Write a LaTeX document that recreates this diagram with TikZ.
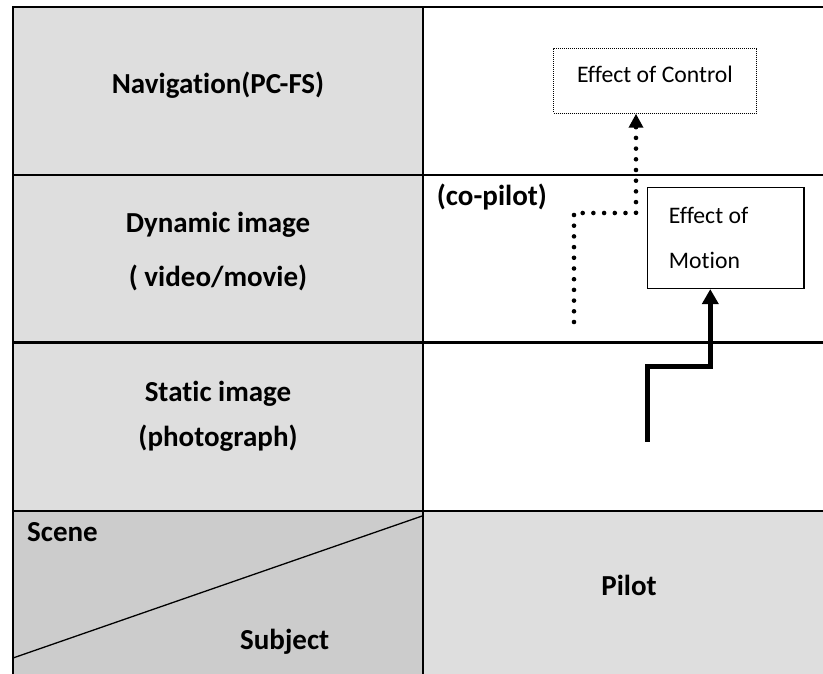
\documentclass[tikz,border=0pt]{standalone}
\usepackage{fontspec}
\setmainfont{Carlito}[Ligatures=NoCommon]
\usetikzlibrary{arrows.meta}
\definecolor{cellgray}{HTML}{DEDEDE}
\definecolor{darkcell}{HTML}{CCCCCC}
\begin{document}
\begin{tikzpicture}[x=1pt,y=-1pt,
  grid/.style={line width=2.3pt, line cap=rect},
  head/.style={font=\fontsize{29}{45}\selectfont\bfseries, inner sep=0pt, align=center},
  ctrlbox/.style={draw, dash pattern=on 1pt off 1pt, line width=0.9pt,
    minimum width=203pt, minimum height=65pt, inner sep=0pt,
    text height=16pt, text depth=12pt, font=\fontsize{23.7}{28}\selectfont},
  motionbox/.style={draw, line width=1.6pt, minimum width=156.3pt, minimum height=100.6pt,
    text width=113.7pt, align=flush left, inner xsep=21.3pt, inner ysep=0pt,
    font=\fontsize{23.7}{45.7}\selectfont},
  dotarrow/.style={line width=4.6pt, line cap=round, dash pattern=on 0pt off 10.7pt,
    -{Triangle[width=14pt,length=14pt]}},
  solidarrow/.style={line width=5pt, line join=miter,
    -{Triangle[width=16pt,length=15pt]}}]
\useasboundingbox (0,0) rectangle (823,674);
% cell fills
\fill[white] (0,0) rectangle (823,674);
\fill[cellgray] (13,7) rectangle (423,511);
\fill[darkcell] (13,511) rectangle (423,674);
\fill[cellgray] (423,511) rectangle (823,674);
% diagonal
\draw[line width=1.3pt] (13,658) -- (423,515.7);
% grid
\draw[grid] (13,7) -- (823,7);
\draw[grid] (13,175) -- (823,175);
\draw[grid] (13,342.5) -- (823,342.5);
\draw[grid] (13,511) -- (823,511);
\draw[grid] (13,7) -- (13,674);
\draw[grid] (423,7) -- (423,674);
% labels
\node[head, anchor=base] (nav) at (218,94) {Navigation(PC-FS)};
\node[head, anchor=base] (dyn) at (218,287) {Dynamic image\\[9.3pt]( video/movie)};
\node[head, anchor=base] (stat) at (218,446) {Static image\\(photograph)};
\node[head, anchor=base west] (copilot) at (436.7,206) {(co-pilot)};
\node[head, anchor=base west] (scene) at (27,541.7) {Scene};
\node[head, anchor=base west] (subject) at (240,649) {Subject};
\node[head, anchor=base] (pilot) at (629,595) {Pilot};
% boxes
\node[ctrlbox] (control) at (655,80.8) {Effect of Control};
\node[motionbox] (motion) at (725.8,238) {Effect of\\Motion};
% arrows
\coordinate (dstart) at (574,322);
\coordinate (dturn) at (636,213);
\draw[dotarrow] (dstart) |- (dturn) -- (dturn |- control.south);
\coordinate (sstart) at (647.7,441.7);
\coordinate (sturn) at (710.3,366);
\draw[solidarrow] (sstart) |- (sturn) -- (sturn |- motion.south);
\end{tikzpicture}
\end{document}
